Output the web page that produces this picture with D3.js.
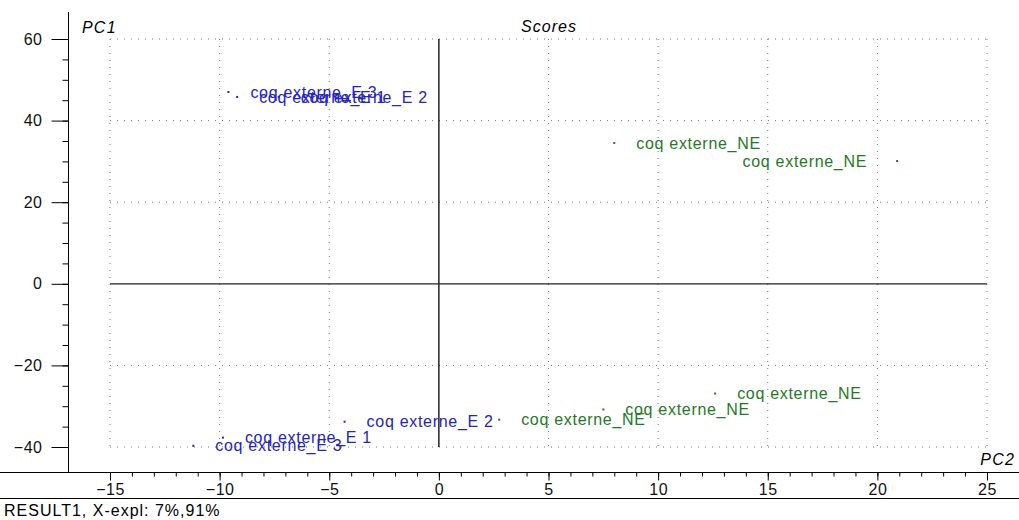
<!doctype html>
<html>
<head>
<meta charset="utf-8">
<script src="https://cdnjs.cloudflare.com/ajax/libs/d3/7.8.5/d3.min.js"></script>
<style>
  body { margin: 0; background: #fff; }
  svg { display: block; font-family: "Liberation Sans", Arial, sans-serif; }
  .grid line { stroke: #777; stroke-dasharray: 1,6; }
  .tick text { font-size: 16px; fill: #111; letter-spacing: 0.5px; }
</style>
</head>
<body>
<svg id="chart" width="1019" height="520"></svg>
<script>
// scores (PC2 on x, PC1 on y)
var names = ["coq externe_E 3", "coq externe_E 1", "coq externe_E 2",
             "coq externe_E 2", "coq externe_E 1", "coq externe_E 3",
             "coq externe_NE", "coq externe_NE", "coq externe_NE",
             "coq externe_NE", "coq externe_NE"];
var groups = ["E", "E", "E", "E", "E", "E", "NE", "NE", "NE", "NE", "NE"];
var pc2 = [-9.6, -9.2, -7.3, -4.3, -9.85, -11.2, 8.0, 20.9, 12.6, 7.5, 2.75];
var pc1 = [47.0, 45.8, 45.8, -33.8, -37.7, -39.7, 34.5, 30.1, -26.9, -30.8, -33.3];
var labelSide = ["r", "r", "r", "r", "r", "r", "r", "l", "r", "r", "r"];

var xTicks = [-15, -10, -5, 0, 5, 10, 15, 20, 25];
var yTicks = [-40, -20, 0, 20, 40, 60];
var gridX = [-15, -10, -5, 5, 10, 15, 20, 25];
var gridY = [-40, -20, 20, 40, 60];

var colors = { E: "#2424c4", NE: "#237a23" };

var svg = d3.select("#chart");
var x = d3.scaleLinear().domain([-15, 25]).range([110, 987]);
var y = d3.scaleLinear().domain([-40, 60]).range([447, 39]);

// dotted grid
var grid = svg.append("g").attr("class", "grid");
grid.selectAll(".gx").data(gridX).enter().append("line")
    .attr("x1", d => x(d)).attr("x2", d => x(d))
    .attr("y1", y(60)).attr("y2", y(-40));
grid.selectAll(".gy").data(gridY).enter().append("line")
    .attr("x1", x(-15)).attr("x2", x(25))
    .attr("y1", d => y(d)).attr("y2", d => y(d));

// zero lines
svg.append("line").attr("x1", x(0)).attr("x2", x(0))
    .attr("y1", y(60)).attr("y2", y(-40)).attr("stroke", "#000").attr("stroke-width", 1.3);
svg.append("line").attr("x1", x(-15)).attr("x2", x(25))
    .attr("y1", y(0)).attr("y2", y(0)).attr("stroke", "#222").attr("stroke-width", 1.3);

// y axis
var yAxis = svg.append("g").attr("transform", "translate(68.5,0)");
yAxis.call(d3.axisLeft(y).tickValues(d3.range(-40, 61, 5)).tickSize(6).tickFormat(""));
yAxis.call(g => g.select(".domain").remove());
var yMaj = svg.append("g").attr("transform", "translate(68.5,0)");
yMaj.call(d3.axisLeft(y).tickValues(yTicks).tickSize(17).tickPadding(9));
yMaj.call(g => g.select(".domain").remove());
svg.append("line").attr("x1", 68.5).attr("x2", 68.5).attr("y1", 12).attr("y2", 472)
    .attr("stroke", "#000");

// x axis
var xMin = svg.append("g").attr("transform", "translate(0,472.5)");
xMin.call(d3.axisBottom(x).tickValues(d3.range(-15, 26, 1)).tickSize(4).tickFormat(""));
xMin.call(g => g.select(".domain").remove());
var xMaj = svg.append("g").attr("transform", "translate(0,472.5)");
xMaj.call(d3.axisBottom(x).tickValues(xTicks).tickSize(8).tickPadding(3));
xMaj.call(g => g.select(".domain").remove());
svg.append("line").attr("x1", 0).attr("x2", 1019).attr("y1", 472.5).attr("y2", 472.5)
    .attr("stroke", "#000");
svg.append("line").attr("x1", 0).attr("x2", 1019).attr("y1", 498.5).attr("y2", 498.5)
    .attr("stroke", "#000");

svg.selectAll(".tick line").attr("stroke", "#000");

// points and labels
var idx = d3.range(names.length);
svg.selectAll(".pt").data(idx).enter().append("rect")
    .attr("class", "pt")
    .attr("x", i => x(pc2[i]) - 1).attr("y", i => y(pc1[i]) - 1)
    .attr("width", 2).attr("height", 2)
    .attr("fill", i => colors[groups[i]]);
svg.selectAll(".lbl").data(idx).enter().append("text")
    .attr("class", "lbl")
    .attr("x", i => x(pc2[i]) + (labelSide[i] == "l" ? -30 : 22))
    .attr("y", i => y(pc1[i]))
    .attr("dy", "0.35em")
    .attr("text-anchor", i => labelSide[i] == "l" ? "end" : "start")
    .attr("font-size", "16px")
    .attr("letter-spacing", "0.7px")
    .attr("fill", i => colors[groups[i]])
    .text(i => names[i]);

// titles
svg.append("text").attr("x", 549).attr("y", 32).attr("text-anchor", "middle")
    .attr("font-style", "italic").attr("font-size", "16px").attr("letter-spacing", "1px")
    .text("Scores");
svg.append("text").attr("x", 82).attr("y", 33)
    .attr("font-style", "italic").attr("font-size", "16px").attr("letter-spacing", "1.2px")
    .text("PC1");
svg.append("text").attr("x", 1015).attr("y", 465).attr("text-anchor", "end")
    .attr("font-style", "italic").attr("font-size", "16px").attr("letter-spacing", "1.2px")
    .text("PC2");
svg.append("text").attr("x", 4).attr("y", 516)
    .attr("font-size", "16px").attr("letter-spacing", "1px").text("RESULT1, X-expl: 7%,91%");
</script>
</body>
</html>
